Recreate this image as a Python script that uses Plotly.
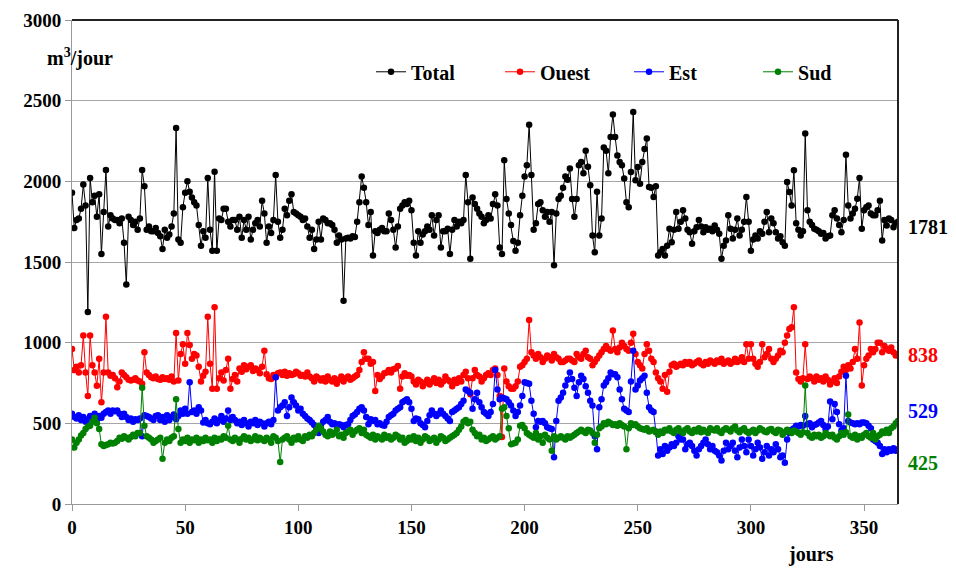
import plotly.graph_objects as go

days = list(range(0, 366))

total = [
1930, 1710, 1760, 1770, 1830, 1980, 1850, 1190, 2020, 1870,
1910, 1780, 1920, 1550, 1810, 2070, 1720, 1790, 1770, 1760,
1760, 1740, 1770, 1620, 1360, 1780, 1760, 1730, 1750, 1700,
1770, 2070, 1970, 1700, 1720, 1690, 1690, 1710, 1680, 1660,
1580, 1700, 1650, 1670, 1720, 1800, 2330, 1640, 1620, 1840,
1930, 2000, 1935, 1900, 1870, 1850, 1730, 1600, 1690, 1650,
2020, 1700, 1570, 2060, 1570, 1770, 1760, 1830, 1830, 1750,
1720, 1760, 1760, 1700, 1780, 1650, 1760, 1700, 1780, 1640,
1700, 1740, 1760, 1720, 1880, 1800, 1620, 1720, 1680, 1760,
2040, 1750, 1650, 1700, 1830, 1790, 1880, 1920, 1810, 1800,
1790, 1780, 1760, 1770, 1720, 1650, 1700, 1580, 1640, 1750,
1640, 1770, 1760, 1740, 1740, 1730, 1700, 1620, 1665, 1640,
1260, 1645, 1650, 1645, 1660, 1655, 1750, 1870, 2030, 1960,
1870, 1730, 1810, 1540, 1690, 1680, 1700, 1710, 1690, 1690,
1800, 1760, 1700, 1590, 1720, 1830, 1850, 1870, 1860, 1880,
1820, 1620, 1540, 1690, 1620, 1670, 1690, 1720, 1700, 1790,
1665, 1760, 1790, 1590, 1690, 1690, 1706, 1550, 1700, 1760,
1720, 1750, 1740, 1760, 2040, 1870, 1520, 1900, 1860, 1830,
1800, 1780, 1740, 1760, 1790, 1770, 1860, 1920, 1850, 1590,
1550, 2130, 1890, 1800, 1730, 1630, 1570, 1620, 1790, 1910,
2030, 2100, 2350, 2040, 1700, 1740, 1860, 1870, 1820, 1780,
1810, 1750, 1810, 1480, 1800, 1890, 1910, 1960, 2030, 2010,
2080, 1890, 1780, 1890, 2100, 2120, 2050, 2190, 2090, 1975,
1665, 1560, 1935, 1665, 1770, 2210, 2190, 2050, 2275, 2414,
2275, 2160, 2120, 2100, 2017, 1870, 1840, 2058, 2430, 2006,
2089, 1985, 2120, 2200, 2265, 1965, 1960, 1903, 1970, 1540,
1560, 1580, 1540, 1600, 1706, 1623, 1700, 1810, 1706, 1750,
1820, 1770, 1700, 1685, 1613, 1690, 1716, 1760, 1720, 1685,
1716, 1700, 1706, 1690, 1727, 1700, 1675, 1520, 1600, 1634,
1790, 1706, 1645, 1700, 1770, 1665, 1700, 1750, 1903, 1750,
1570, 1640, 1665, 1645, 1690, 1675, 1750, 1810, 1685, 1770,
1740, 1685, 1645, 1660, 1623, 1600, 1996, 1934, 1850, 2068,
1740, 1700, 1665, 1690, 2296, 1820, 1750, 1730, 1706, 1700,
1690, 1675, 1680, 1645, 1660, 1665, 1790, 1820, 1770, 1730,
1685, 1760, 2165, 1850, 1770, 1800, 1830, 1892, 2020, 1706,
1820, 1840, 1850, 1800, 1790, 1790, 1820, 1880, 1634, 1760,
1727, 1770, 1760, 1716, 1740, 1750,
]

ouest = [
960, 830, 850, 815, 860, 1045, 815, 670, 1045, 860,
815, 733, 900, 630, 815, 1160, 815, 795, 800, 780,
723, 760, 815, 800, 785, 770, 765, 770, 780, 765,
760, 745, 940, 815, 800, 785, 780, 790, 775, 770,
785, 775, 780, 770, 790, 760, 1060, 765, 930, 990,
870, 1060, 985, 900, 930, 920, 850, 760, 795, 820,
1160, 870, 715, 1220, 715, 780, 815, 765, 830, 900,
715, 775, 800, 760, 840, 820, 860, 835, 850, 860,
825, 840, 830, 810, 850, 950, 805, 780, 775, 800,
785, 810, 815, 800, 820, 795, 810, 800, 805, 820,
810, 795, 800, 790, 815, 790, 780, 760, 790, 780,
765, 780, 760, 790, 770, 760, 780, 745, 770, 790,
760, 780, 790, 770, 780, 790, 800, 830, 880, 940,
900, 900, 870, 880, 700, 800, 775, 790, 810, 815,
830, 815, 835, 840, 855, 715, 790, 810, 795, 800,
790, 760, 740, 770, 760, 730, 750, 770, 740, 760,
780, 750, 770, 740, 760, 790, 770, 760, 730, 770,
750, 780, 760, 800, 820, 780, 680, 780, 830, 800,
790, 760, 780, 800, 810, 800, 830, 840, 800, 670,
415, 840, 760, 730, 715, 715, 730, 760, 850, 860,
880, 900, 1140, 940, 920, 900, 930, 910, 880, 900,
920, 910, 890, 930, 910, 900, 880, 880, 890, 900,
900, 890, 880, 930, 910, 900, 930, 950, 910, 900,
860, 880, 900, 920, 940, 960, 980, 960, 950, 1075,
960, 940, 970, 1000, 980, 960, 950, 1000, 1055, 930,
880, 860, 840, 930, 990, 950, 900, 880, 815, 780,
760, 715, 800, 695, 820, 860, 870, 850, 860, 870,
860, 880, 870, 880, 860, 870, 880, 890, 870, 860,
880, 870, 890, 880, 870, 890, 880, 900, 870, 880,
890, 870, 880, 900, 880, 890, 910, 880, 990, 900,
990, 900, 870, 850, 880, 990, 910, 930, 960, 900,
880, 900, 920, 950, 940, 1000, 1045, 1085, 1095, 1220,
815, 775, 760, 780, 990, 775, 790, 780, 760, 790,
770, 780, 760, 790, 770, 740, 760, 780, 750, 790,
820, 850, 830, 860, 840, 880, 960, 900, 1125, 735,
860, 900, 920, 960, 940, 960, 1000, 1000, 940, 980,
960, 950, 970, 940, 920, 930,
]

est = [
560, 540, 530, 550, 520, 540, 510, 525, 545, 540,
560, 520, 545, 535, 560, 570, 580, 560, 580, 575,
580, 560, 540, 560, 540, 520, 530, 510, 525, 520,
530, 420, 550, 545, 540, 530, 520, 545, 550, 520,
540, 510, 550, 520, 540, 555, 525, 545, 580, 560,
590, 560, 755, 570, 580, 560, 600, 580, 505, 520,
500, 495, 510, 530, 500, 520, 545, 510, 530, 580,
520, 540, 520, 500, 510, 490, 520, 500, 480, 510,
500, 520, 490, 510, 500, 480, 500, 510, 495, 520,
785, 580, 600, 610, 630, 545, 600, 660, 630, 610,
580, 590, 560, 545, 530, 520, 505, 490, 470, 440,
485, 510, 520, 540, 510, 495, 500, 485, 495, 490,
475, 490, 495, 520, 545, 555, 570, 590, 600, 580,
540, 495, 525, 515, 520, 495, 500, 490, 485, 510,
540, 550, 560, 580, 590, 600, 630, 640, 650, 630,
590, 515, 530, 525, 500, 490, 475, 515, 550, 580,
560, 545, 560, 580, 560, 545, 530, 515, 570, 580,
590, 600, 620, 640, 710, 700, 690, 590, 650, 690,
630, 600, 570, 560, 545, 570, 620, 830, 710, 650,
660, 655, 650, 630, 610, 580, 545, 570, 610, 670,
755, 750, 745, 640, 560, 475, 515, 510, 515, 500,
475, 470, 465, 290, 515, 640, 660, 690, 735, 770,
815, 775, 720, 670, 755, 795, 775, 730, 690, 640,
610, 420, 340, 600, 650, 735, 755, 780, 815, 805,
805, 785, 710, 650, 590, 580, 570, 760, 950, 710,
735, 765, 780, 795, 690, 600, 580, 570, 450, 300,
340, 310, 360, 330, 350, 370, 360, 380, 420, 400,
400, 340, 370, 380, 360, 330, 300, 340, 360, 380,
400, 370, 340, 360, 330, 320, 300, 270, 330, 380,
340, 360, 380, 330, 290, 350, 400, 360, 320, 400,
360, 300, 340, 380, 350, 280, 320, 360, 300, 340,
320, 370, 340, 290, 300, 255, 400, 440, 460, 470,
485, 480, 490, 485, 545, 495, 500, 475, 490, 495,
505, 515, 490, 465, 480, 635, 525, 620, 570, 495,
455, 470, 795, 515, 505, 500, 495, 500, 495, 505,
505, 500, 485, 470, 400, 390, 380, 360, 310, 340,
320, 340, 330, 345, 330, 340,
]

sud = [
400, 350, 380, 400, 425, 440, 465, 480, 485, 510,
535, 500, 465, 370, 360, 365, 370, 380, 375, 380,
390, 410, 405, 420, 410, 400, 415, 430, 420, 440,
440, 720, 485, 420, 410, 400, 380, 390, 400, 410,
280, 380, 400, 390, 410, 420, 650, 465, 380, 400,
390, 410, 380, 400, 395, 410, 380, 400, 390, 410,
395, 400, 380, 410, 390, 405, 400, 420, 410, 485,
400, 390, 410, 400, 380, 405, 420, 400, 410, 390,
400, 420, 395, 410, 400, 390, 410, 400, 380, 420,
410, 390, 260, 400, 410, 420, 400, 380, 410, 400,
420, 400, 390, 420, 410, 430, 420, 440, 460, 485,
470, 450, 430, 420, 450, 430, 440, 460, 420, 430,
410, 440, 450, 460, 430, 450, 460, 470, 440, 460,
430, 420, 410, 430, 400, 420, 410, 400, 430, 410,
420, 400, 410, 430, 420, 400, 410, 380, 390, 410,
400, 420, 390, 410, 380, 400, 420, 410, 390, 400,
410, 380, 400, 420, 410, 390, 400, 410, 420, 430,
440, 460, 480, 510, 520, 500, 510, 460, 440, 420,
430, 400, 410, 390, 400, 410, 420, 400, 410, 420,
590, 600, 545, 470, 370, 375, 380, 400, 485, 490,
470, 440, 430, 420, 410, 440, 400, 420, 380, 430,
410, 400, 330, 420, 400, 410, 420, 410, 400, 420,
410, 420, 430, 440, 450, 460, 450, 440, 460, 455,
440, 380, 430, 470, 480, 500, 495, 510, 500, 490,
495, 485, 500, 490, 480, 340, 470, 500, 490, 495,
480, 470, 465, 460, 470, 450, 455, 460, 445, 430,
450, 440, 460, 455, 470, 450, 440, 460, 470, 450,
440, 460, 470, 450, 440, 460, 450, 470, 445, 460,
450, 440, 470, 460, 455, 470, 450, 440, 460, 470,
460, 450, 470, 480, 455, 445, 460, 470, 450, 440,
450, 460, 440, 455, 470, 460, 450, 445, 460, 465,
450, 440, 460, 455, 430, 445, 460, 450, 440, 455,
450, 440, 430, 445, 735, 440, 420, 410, 430, 420,
430, 410, 420, 440, 430, 420, 430, 410, 400, 420,
440, 430, 445, 555, 420, 410, 430, 400, 420, 410,
430, 440, 420, 410, 440, 400, 420, 430, 450, 440,
460, 440, 470, 480, 500, 515,
]

series_names = ["Total", "Ouest", "Est", "Sud"]
series_values = [total, ouest, est, sud]
series_colors = ["#000000", "#FF0000", "#0000FF", "#008000"]
end_labels = ["1781", "838", "529", "425"]
end_label_y = [1720, 924, 577, 254]

x_ticks = [0, 50, 100, 150, 200, 250, 300, 350]
y_ticks = [0, 500, 1000, 1500, 2000, 2500, 3000]

FONT = "Liberation Serif"

fig = go.Figure()
for name, vals, col in zip(series_names, series_values, series_colors):
    fig.add_trace(go.Scatter(
        x=days, y=vals, name=f"<b>{name}</b>", mode="lines+markers",
        line=dict(color=col, width=1),
        marker=dict(color=col, size=6.5, symbol="circle"),
    ))

for txt, yv, col in zip(end_labels, end_label_y, series_colors):
    fig.add_annotation(x=1.01, xref="paper", y=yv, yref="y", text=f"<b>{txt}</b>",
                       showarrow=False, xanchor="left", yanchor="middle",
                       font=dict(family=FONT, size=20, color=col))

fig.add_annotation(x=-0.033, xref="paper", y=2770, yref="y", text="<b>m<sup>3</sup>/jour</b>",
                   showarrow=False, xanchor="left", yanchor="middle",
                   font=dict(family=FONT, size=20, color="black"))
fig.add_annotation(x=0.895, xref="paper", y=-0.105, yref="paper", text="<b>jours</b>",
                   showarrow=False, xanchor="center", yanchor="middle",
                   font=dict(family=FONT, size=20, color="black"))

# dark frame on top and right
fig.add_shape(type="line", xref="paper", yref="paper", x0=0, x1=1, y0=1, y1=1,
              line=dict(color="#222222", width=2))
fig.add_shape(type="line", xref="paper", yref="paper", x0=1, x1=1, y0=0, y1=1,
              line=dict(color="#222222", width=2))

# the page body adds an 8 px offset; margins compensate for it
fig.update_layout(
    width=956, height=573,
    margin=dict(l=64, r=66, t=12, b=77, autoexpand=False),
    paper_bgcolor="white", plot_bgcolor="white",
    font=dict(family=FONT, size=19, color="black"),
    showlegend=True,
    legend=dict(orientation="h", x=0.362, y=0.893, xanchor="left", yanchor="middle",
                font=dict(family=FONT, size=20, color="black"),
                bgcolor="rgba(0,0,0,0)", itemwidth=30, entrywidth=84,
                entrywidthmode="pixels", tracegroupgap=0),
)
fig.update_xaxes(range=[0, 365], tickvals=x_ticks, ticktext=[f"<b>{v}</b>" for v in x_ticks],
                 showgrid=False, zeroline=False, showline=True, linecolor="#999999", linewidth=1,
                 ticks="outside", ticklen=6, tickcolor="#999999", automargin=False)
fig.update_yaxes(range=[0, 3000], tickvals=y_ticks, ticktext=[f"<b>{v}</b>" for v in y_ticks],
                 showgrid=True, gridcolor="#A6A6A6", gridwidth=1, zeroline=False,
                 showline=True, linecolor="#999999", linewidth=1,
                 ticks="outside", ticklen=6, tickcolor="#999999", automargin=False)

fig.write_html("out.html")
